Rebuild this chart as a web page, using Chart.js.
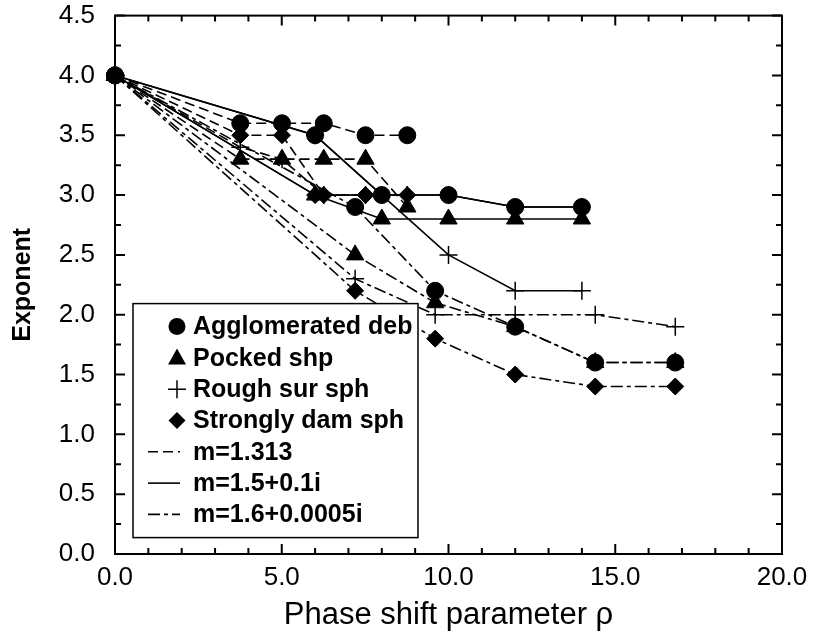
<!DOCTYPE html>
<html>
<head>
    <title>Exponent vs phase shift parameter</title>
    <script src="https://cdn.jsdelivr.net/npm/chart.js@4"></script>
    <style>
        body { margin: 0; background: #fff; }
        #box { width: 813px; height: 637px; }
    </style>
</head>
<body>
    <div id="box"><canvas id="expChart"></canvas></div>

    <script>
        // phase shift parameter rho for each refractive index
        var rhoM1313 = [0, 3.756, 5.008, 6.26, 7.512, 8.764];
        var rhoM15 = [0, 6, 8, 10, 12, 14];
        var rhoM16 = [0, 7.2, 9.6, 12, 14.4, 16.8];

        // m=1.313 (dashed)
        var aggM1313 = [4.0, 3.6, 3.6, 3.6, 3.5, 3.5];
        var pockM1313 = [4.0, 3.3, 3.3, 3.3, 3.3, 2.9];
        var roughM1313 = [4.0, 3.4, 3.3, 3.0, 3.0, 3.0];
        var damM1313 = [4.0, 3.5, 3.5, 3.0, 3.0, 3.0];

        // m=1.5+0.1i (solid)
        var aggM15 = [4.0, 3.5, 3.0, 3.0, 2.9, 2.9];
        var pockM15 = [4.0, 3.0, 2.8, 2.8, 2.8, 2.8];
        var roughM15 = [4.0, 3.5, 3.0, 2.5, 2.2, 2.2];
        var damM15 = [4.0, 3.0, 3.0, 3.0, 2.9, 2.9];

        // m=1.6+0.0005i (dash-dot)
        var aggM16 = [4.0, 2.9, 2.2, 1.9, 1.6, 1.6];
        var pockM16 = [4.0, 2.5, 2.1, 1.9, 1.6, 1.6];
        var roughM16 = [4.0, 2.3, 2.0, 2.0, 2.0, 1.9];
        var damM16 = [4.0, 2.2, 1.8, 1.5, 1.4, 1.4];

        var xTickValues = [0, 5, 10, 15, 20];
        var yTickValues = [0, 0.5, 1.0, 1.5, 2.0, 2.5, 3.0, 3.5, 4.0, 4.5];

        var shapeNames = ["Agglomerated deb", "Pocked shp", "Rough sur sph", "Strongly dam sph"];
        var indexNames = ["m=1.313", "m=1.5+0.1i", "m=1.6+0.0005i"];

        var FONT = '"Liberation Sans", Arial, Helvetica, sans-serif';
        var DASHED = [10, 5];
        var SOLID = [];
        var DASHDOT = [12, 4, 4, 4];

        var markers = {
            circle: {pointStyle: "circle", pointRadius: 8.5},
            triangle: {pointStyle: "triangle", pointRadius: 10},
            plus: {pointStyle: "cross", pointRadius: 9},
            diamond: {pointStyle: "rectRot", pointRadius: 8.5}
        };

        function series(xs, ys, marker, dash) {
            var m = markers[marker];
            return {
                data: xs.map(function(x, i) { return {x: x, y: ys[i]}; }),
                showLine: true,
                borderColor: "#000",
                borderWidth: 1.6,
                borderDash: dash,
                backgroundColor: "#000",
                pointStyle: m.pointStyle,
                pointRadius: m.pointRadius,
                pointHoverRadius: m.pointRadius,
                pointBackgroundColor: "#000",
                pointBorderColor: "#000",
                pointBorderWidth: marker === "plus" ? 1.5 : 1,
                clip: false
            };
        }

        // first dataset ends up on top
        var datasets = [
            series(rhoM16, aggM16, "circle", DASHDOT),
            series(rhoM15, aggM15, "circle", SOLID),
            series(rhoM1313, aggM1313, "circle", DASHED),
            series(rhoM16, pockM16, "triangle", DASHDOT),
            series(rhoM15, pockM15, "triangle", SOLID),
            series(rhoM1313, pockM1313, "triangle", DASHED),
            series(rhoM16, damM16, "diamond", DASHDOT),
            series(rhoM15, damM15, "diamond", SOLID),
            series(rhoM1313, damM1313, "diamond", DASHED),
            series(rhoM16, roughM16, "plus", DASHDOT),
            series(rhoM15, roughM15, "plus", SOLID),
            series(rhoM1313, roughM1313, "plus", DASHED)
        ];

        function drawMarker(ctx, kind, x, y) {
            ctx.beginPath();
            if (kind === "circle") {
                ctx.arc(x, y, 8.5, 0, Math.PI * 2);
                ctx.fill();
            } else if (kind === "triangle") {
                ctx.moveTo(x, y - 9.5);
                ctx.lineTo(x + 9, y + 6.5);
                ctx.lineTo(x - 9, y + 6.5);
                ctx.closePath();
                ctx.fill();
            } else if (kind === "plus") {
                ctx.lineWidth = 1.5;
                ctx.moveTo(x - 9, y); ctx.lineTo(x + 9, y);
                ctx.moveTo(x, y - 9); ctx.lineTo(x, y + 9);
                ctx.stroke();
            } else {
                ctx.moveTo(x, y - 8.5);
                ctx.lineTo(x + 8.5, y);
                ctx.lineTo(x, y + 8.5);
                ctx.lineTo(x - 8.5, y);
                ctx.closePath();
                ctx.fill();
            }
        }

        // frame, inward ticks and the boxed legend
        var framePlugin = {
            id: "frame",
            afterDatasetsDraw: function(chart) {
                var ctx = chart.ctx;
                var a = chart.chartArea;
                var xs = chart.scales.x;
                var ys = chart.scales.y;
                ctx.save();
                ctx.strokeStyle = "#000";
                ctx.fillStyle = "#000";
                ctx.lineWidth = 2;
                ctx.setLineDash([]);
                ctx.strokeRect(a.left, a.top, a.right - a.left, a.bottom - a.top);

                ctx.beginPath();
                for (var v = 0; v <= 20; v++) {
                    var px = xs.getPixelForValue(v);
                    var len = v % 5 === 0 ? 10 : 6;
                    ctx.moveTo(px, a.bottom); ctx.lineTo(px, a.bottom - len);
                    ctx.moveTo(px, a.top); ctx.lineTo(px, a.top + len);
                }
                for (var i = 0; i <= 18; i++) {
                    var py = ys.getPixelForValue(i * 0.25);
                    var l = i % 2 === 0 ? 10 : 6;
                    ctx.moveTo(a.left, py); ctx.lineTo(a.left + l, py);
                    ctx.moveTo(a.right, py); ctx.lineTo(a.right - l, py);
                }
                ctx.stroke();

                // legend box
                var bx = a.left + 18, by = a.top + 288, bw = 285, bh = 234;
                ctx.fillStyle = "#fff";
                ctx.fillRect(bx, by, bw, bh);
                ctx.lineWidth = 1.5;
                ctx.strokeRect(bx, by, bw, bh);

                ctx.fillStyle = "#000";
                ctx.font = "bold 25px " + FONT;
                ctx.textBaseline = "middle";
                ctx.textAlign = "left";
                var kinds = ["circle", "triangle", "plus", "diamond"];
                var rowY = function(k) { return by + 23 + k * 31.3; };
                for (var k = 0; k < 4; k++) {
                    drawMarker(ctx, kinds[k], bx + 44, rowY(k));
                    ctx.fillText(shapeNames[k], bx + 60, rowY(k) + 1);
                }
                var dashes = [DASHED, SOLID, DASHDOT];
                for (var j = 0; j < 3; j++) {
                    var yy = rowY(4 + j);
                    ctx.beginPath();
                    ctx.lineWidth = 1.6;
                    ctx.setLineDash(dashes[j]);
                    ctx.moveTo(bx + 15, yy);
                    ctx.lineTo(bx + 47, yy);
                    ctx.stroke();
                    ctx.setLineDash([]);
                    ctx.fillText(indexNames[j], bx + 60, yy + 1);
                }
                ctx.restore();
            }
        };

        new Chart("expChart", {
            type: "scatter",
            data: {datasets: datasets},
            plugins: [framePlugin],
            options: {
                responsive: true,
                maintainAspectRatio: false,
                animation: false,
                layout: {padding: {top: 15, right: 31, left: 0, bottom: 0}},
                plugins: {legend: {display: false}, tooltip: {enabled: false}},
                scales: {
                    x: {
                        type: "linear",
                        min: 0,
                        max: 20,
                        afterBuildTicks: function(s) { s.ticks = xTickValues.map(function(v) { return {value: v}; }); },
                        afterFit: function(s) { s.height = 83; },
                        ticks: {
                            autoSkip: false,
                            maxRotation: 0,
                            padding: 0,
                            color: "#000",
                            font: {family: FONT, size: 26},
                            callback: function(v) { return Number(v).toFixed(1); }
                        },
                        grid: {display: true, drawOnChartArea: false, drawTicks: true, tickLength: 8, color: "rgba(0,0,0,0)"},
                        border: {display: false},
                        title: {
                            display: true,
                            text: "Phase shift parameter \u03c1",
                            color: "#000",
                            font: {family: FONT, size: 31},
                            padding: {top: 0, bottom: 3}
                        }
                    },
                    y: {
                        type: "linear",
                        min: 0,
                        max: 4.5,
                        afterBuildTicks: function(s) { s.ticks = yTickValues.map(function(v) { return {value: v}; }); },
                        afterFit: function(s) { s.width = 115; },
                        ticks: {
                            autoSkip: false,
                            padding: 0,
                            color: "#000",
                            font: {family: FONT, size: 26},
                            callback: function(v) { return Number(v).toFixed(1); }
                        },
                        grid: {display: true, drawOnChartArea: false, drawTicks: true, tickLength: 20, color: "rgba(0,0,0,0)"},
                        border: {display: false},
                        title: {
                            display: true,
                            text: "Exponent",
                            color: "#000",
                            font: {family: FONT, size: 25, weight: "bold"},
                            padding: {top: 8, bottom: 0}
                        }
                    }
                }
            }
        });
    </script>
</body>
</html>
